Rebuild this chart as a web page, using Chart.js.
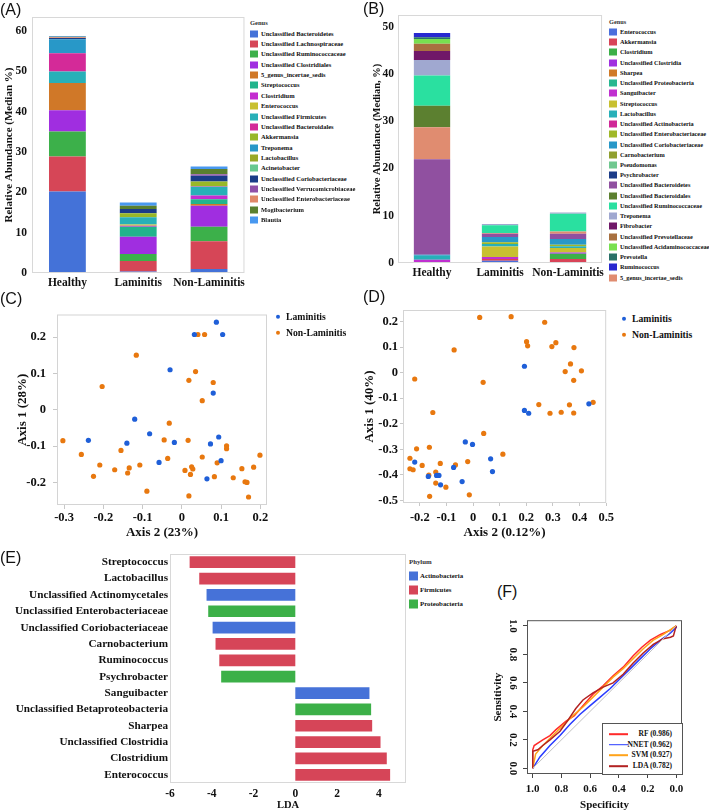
<!DOCTYPE html>
<html>
<head>
<meta charset="utf-8">
<script src="https://cdn.jsdelivr.net/npm/chart.js@4.4.1/dist/chart.umd.min.js"></script>
<style>
  body { margin: 0; background: #fff; }
  #page { position: relative; width: 709px; height: 812px; overflow: hidden;
          font-family: "Liberation Serif", "Times New Roman", serif; font-weight: bold; color: #111; }
  canvas { position: absolute; }
  .t { position: absolute; white-space: nowrap; line-height: 1; transform: translateY(-50%); }
  .sq { position: absolute; transform: translateY(-50%); }
  .panel { font-family: "Liberation Sans", Arial, sans-serif; font-weight: normal; }
</style>
</head>
<body>
<div id="page">
  <canvas id="cA" width="248" height="292" style="left:0;top:0"></canvas>
  <canvas id="cB" width="252" height="282" style="left:355px;top:0"></canvas>
  <canvas id="cC" width="271" height="240" style="left:0;top:300px"></canvas>
  <canvas id="cD" width="263" height="240" style="left:355px;top:300px"></canvas>
  <canvas id="cE" width="407" height="267" style="left:0;top:545px"></canvas>
  <canvas id="cF" width="205" height="202" style="left:485px;top:610px"></canvas>
</div>
<script>
const groups = ['Healthy', 'Laminitis', 'Non-Laminitis'];

// (A) median relative abundance per genus: [Healthy, Laminitis, Non-Laminitis]
const genusA = ['Unclassified Bacteroidetes', 'Unclassified Lachnospiraceae', 'Unclassified Ruminococcaceae',
  'Unclassified Clostridiales', '5_genus_incertae_sedis', 'Streptococcus', 'Clostridium', 'Enterococcus',
  'Unclassified Firmicutes', 'Unclassified Bacteroidales', 'Akkermansia', 'Treponema', 'Lactobacillus',
  'Acinetobacter', 'Unclassified Coriobacteriaceae', 'Unclassified Verrucomicrobiaceae',
  'Unclassified Enterobacteriaceae', 'Mogibacterium', 'Blautia'];
const colorA = ['#4472d8', '#d64657', '#3cb04a', '#a02ee0', '#d07828', '#22b48c', '#c42cd0', '#c8c030',
  '#28b0b8', '#d42a98', '#98b828', '#2898c8', '#98a828', '#68c890', '#1a3c88', '#9050a8',
  '#e08868', '#5a8030', '#4898f0'];
const medianA = [
  [20.2, 0.4, 1.0], [8.7, 2.6, 6.9], [6.2, 1.7, 3.6], [5.3, 4.3, 5.2], [6.7, 0, 0.4],
  [0, 2.5, 1.2], [0, 0.25, 0.9], [0, 0.3, 0], [2.9, 1.75, 2.2], [4.5, 0, 0.1],
  [0, 1.0, 1.2], [3.5, 0, 0], [0, 0, 0], [0, 0, 0], [0.3, 1.1, 1.4],
  [0, 0, 0.4], [0.2, 0, 0], [0.1, 0.8, 1.3], [0.2, 0.8, 0.6]];

// (B) same, legend order
const genusB = ['Enterococcus', 'Akkermansia', 'Clostridium', 'Unclassified Clostridia', 'Sharpea',
  'Unclassified Proteobacteria', 'Sanguibacter', 'Streptococcus', 'Lactobacillus',
  'Unclassified Actinobacteria', 'Unclassified Enterobacteriaceae', 'Unclassified Coriobacteriaceae',
  'Carnobacterium', 'Pseudomonas', 'Psychrobacter', 'Unclassified Bacteroidetes',
  'Unclassified Bacteroidales', 'Unclassified Ruminococcaceae', 'Treponema', 'Fibrobacter',
  'Unclassified Prevotellaceae', 'Unclassified Acidaminococcaceae', 'Prevotella', 'Ruminococcus',
  '5_genus_incertae_sedis'];
const colorB = ['#4a6fdc', '#d84458', '#3cb048', '#a030e0', '#d07a28', '#28b890', '#c030d0', '#c8c030',
  '#28b0b8', '#d02898', '#a0b828', '#2898c8', '#90a030', '#70c890', '#1c3c88', '#9050a0',
  '#5c8030', '#2ae0a0', '#a0a8d0', '#701868', '#a87040', '#78e050', '#2a7068', '#2828d0', '#e08c70'];
const medianB = [
  [0, 0.5, 0], [0, 0.35, 0.85], [0, 0, 1.12], [0, 0, 0.27], [0, 0, 0],
  [0, 0, 0], [0.7, 0.43, 0], [0, 2.23, 0.93], [0.85, 0.5, 0.4],
  [0, 0, 0], [0, 0.36, 0.3], [0.2, 1.14, 1.2],
  [0, 0, 0], [0, 0, 0], [0, 0, 0], [20.2, 0.7, 1.13],
  [4.55, 0, 0], [6.4, 1.62, 3.74], [3.3, 0.29, 0.28], [1.9, 0, 0],
  [1.5, 0, 0], [1.0, 0, 0], [0.4, 0, 0], [0.9, 0, 0],
  [6.8, 0.14, 0.48]];
// stacking order in (B), bottom to top
const stackB = ['Enterococcus', 'Akkermansia', 'Clostridium', 'Unclassified Clostridia', 'Sharpea',
  'Unclassified Proteobacteria', 'Sanguibacter', 'Streptococcus', 'Lactobacillus',
  'Unclassified Actinobacteria', 'Unclassified Enterobacteriaceae', 'Unclassified Coriobacteriaceae',
  'Carnobacterium', 'Pseudomonas', 'Psychrobacter', 'Unclassified Bacteroidetes', '5_genus_incertae_sedis',
  'Unclassified Bacteroidales', 'Unclassified Ruminococcaceae', 'Treponema', 'Fibrobacter',
  'Unclassified Prevotellaceae', 'Unclassified Acidaminococcaceae', 'Prevotella', 'Ruminococcus'];

// (C) PCoA, [Axis 2, Axis 1]
const lamC = [[0.088,0.241],[0.032,0.207],[0.104,0.207],[-0.030,0.110],[0.080,0.046],[-0.120,-0.026],
  [-0.082,-0.066],[-0.238,-0.084],[-0.140,-0.092],[-0.019,-0.090],[0.094,-0.075],[0.073,-0.094],
  [-0.058,-0.145],[0.100,-0.140],[0.064,-0.190]];
const nonC = [[0.041,0.207],[0.058,0.207],[-0.116,0.150],[-0.203,0.064],[0.035,0.105],[0.018,0.081],
  [0.080,0.075],[0.052,0.025],[-0.032,-0.037],[-0.303,-0.085],[-0.256,-0.123],[-0.209,-0.152],
  [-0.225,-0.183],[-0.155,-0.112],[-0.171,-0.165],[-0.138,-0.174],[-0.134,-0.160],[-0.107,-0.152],
  [-0.045,-0.083],[-0.036,-0.134],[-0.089,-0.224],[0.016,-0.084],[0.008,-0.167],[0.022,-0.178],
  [0.025,-0.157],[0.028,-0.163],[0.018,-0.237],[0.052,-0.130],[0.090,-0.146],[0.083,-0.184],
  [0.114,-0.099],[0.114,-0.107],[0.131,-0.187],[0.153,-0.162],[0.161,-0.198],[0.166,-0.200],
  [0.183,-0.158],[0.199,-0.125],[0.170,-0.240]];

// (D)
const lamD = [[0.193,0.025],[0.193,-0.148],[0.209,-0.159],[0.435,-0.122],[-0.219,-0.350],[-0.029,-0.271],
  [-0.002,-0.281],[-0.073,-0.371],[0.066,-0.337],[0.073,-0.387],[-0.168,-0.406],[-0.137,-0.402],
  [-0.128,-0.402],[-0.122,-0.439],[-0.041,-0.426]];
const nonD = [[0.025,0.216],[0.143,0.219],[0.269,0.197],[0.201,0.121],[0.205,0.105],[0.311,0.117],
  [0.296,0.102],[0.379,0.098],[-0.071,0.089],[0.366,0.034],[0.346,0.004],[0.407,0.007],[0.378,-0.030],
  [-0.219,-0.025],[0.038,-0.038],[0.247,-0.125],[0.289,-0.159],[0.331,-0.155],[0.362,-0.126],
  [0.378,-0.158],[0.451,-0.116],[-0.151,-0.156],[0.040,-0.238],[-0.212,-0.298],[-0.164,-0.292],
  [-0.237,-0.335],[-0.237,-0.376],[-0.225,-0.380],[-0.191,-0.363],[-0.123,-0.355],[-0.066,-0.361],
  [-0.020,-0.348],[0.112,-0.319],[-0.166,-0.401],[-0.140,-0.389],[-0.140,-0.432],[-0.102,-0.448],
  [-0.163,-0.484],[-0.014,-0.478]];

// (E) LEfSe
const ldaTaxa = ['Streptococcus', 'Lactobacillus', 'Unclassified Actinomycetales',
  'Unclassified Enterobacteriaceae', 'Unclassified Coriobacteriaceae', 'Carnobacterium', 'Ruminococcus',
  'Psychrobacter', 'Sanguibacter', 'Unclassified Betaproteobacteria', 'Sharpea',
  'Unclassified Clostridia', 'Clostridium', 'Enterococcus'];
const ldaScore = [-5.06, -4.60, -4.25, -4.17, -3.96, -3.82, -3.64, -3.55, 3.55, 3.63, 3.68, 4.08, 4.38, 4.54];
const ldaPhylum = ['Firmicutes', 'Firmicutes', 'Actinobacteria', 'Proteobacteria', 'Actinobacteria',
  'Firmicutes', 'Firmicutes', 'Proteobacteria', 'Actinobacteria', 'Proteobacteria', 'Firmicutes',
  'Firmicutes', 'Firmicutes', 'Firmicutes'];
const phyla = ['Actinobacteria', 'Firmicutes', 'Proteobacteria'];
const phylumColor = ['#4672d8', '#d64558', '#3cb048'];

// (F) ROC, [specificity, sensitivity]
const rocNames = ['RF (0.986)', 'NNET (0.962)', 'SVM (0.927)', 'LDA (0.782)'];
const rocColors = ['#ff2a2a', '#2a3cff', '#ffa31a', '#b22222'];
const rocRF = [[1,0],[1,0.13],[0.99,0.16],[0.93,0.20],[0.88,0.23],[0.84,0.27],[0.77,0.33],[0.71,0.37],
  [0.65,0.44],[0.58,0.52],[0.51,0.58],[0.44,0.65],[0.37,0.71],[0.30,0.79],[0.24,0.85],[0.18,0.90],
  [0.11,0.94],[0.04,0.97],[0,1]];
const rocNNET = [[1,0],[0.95,0.08],[0.88,0.16],[0.81,0.23],[0.74,0.31],[0.67,0.38],[0.60,0.44],[0.53,0.50],
  [0.46,0.56],[0.39,0.63],[0.32,0.70],[0.25,0.77],[0.18,0.84],[0.11,0.90],[0.04,0.95],[0,0.99],[0,1]];
const rocSVM = [[1,0],[0.98,0.10],[0.93,0.16],[0.86,0.23],[0.79,0.30],[0.72,0.37],[0.65,0.43],[0.58,0.50],
  [0.51,0.57],[0.44,0.64],[0.37,0.70],[0.30,0.77],[0.23,0.84],[0.16,0.90],[0.09,0.94],[0.03,0.98],[0,1]];
const rocLDA = [[1,0],[1,0.12],[0.965,0.13],[0.93,0.16],[0.88,0.20],[0.81,0.26],[0.76,0.33],[0.70,0.42],
  [0.65,0.48],[0.58,0.53],[0.51,0.57],[0.44,0.60],[0.37,0.66],[0.30,0.74],[0.23,0.81],[0.16,0.87],
  [0.09,0.91],[0.04,0.92],[0.02,0.93],[0.01,0.965],[0,1]];
const chance = [[1,0],[0,1]];

const LAM = '#1f5fd8', NON = '#e8780f';

Chart.defaults.font.family = '"Liberation Serif", "Times New Roman", serif';
Chart.defaults.font.weight = 'bold';
Chart.defaults.color = '#111';
Chart.defaults.animation = false;
Chart.defaults.responsive = false;
Chart.defaults.plugins.legend.display = false;
Chart.defaults.plugins.tooltip.enabled = false;

// box round the plot area
Chart.register({
  id: 'frame',
  afterDatasetsDraw(chart, args, opts) {
    const a = chart.chartArea, ctx = chart.ctx;
    ctx.save();
    ctx.strokeStyle = opts.color || '#d6d6d6';
    ctx.lineWidth = opts.width || 1;
    ctx.strokeRect(a.left + 0.5, a.top + 0.5, a.right - a.left - 1, a.bottom - a.top - 1);
    ctx.restore();
  }
});

const fixW = w => s => { s.width = w; };
const fixH = h => s => { s.height = h; };
const noGrid = { display: false, drawTicks: false };
const page = document.getElementById('page');

function text(str, x, y, size, cls, extra) {
  const d = document.createElement('div');
  d.className = 't' + (cls ? ' ' + cls : '');
  d.textContent = str;
  d.style.left = x + 'px';
  d.style.top = y + 'px';
  d.style.fontSize = size + 'px';
  if (extra) Object.assign(d.style, extra);
  page.appendChild(d);
  return d;
}
function swatch(x, y, w, h, color, radius) {
  const d = document.createElement('div');
  d.className = 'sq';
  Object.assign(d.style, { left: x + 'px', top: y + 'px', width: w + 'px', height: h + 'px',
    background: color, borderRadius: radius ? '50%' : '0' });
  page.appendChild(d);
}
function genusLegend(title, names, colors, x, y0, step, size) {
  text(title, x, y0 - step, size, '', { color: '#333' });
  names.forEach((n, i) => {
    swatch(x, y0 + i * step, 8, 7, colors[i]);
    text(n, x + 11, y0 + i * step, size);
  });
}

function stackedBars(id, names, colors, values, yMax, yTitle, yTitlePad, yWidth, tickPad, barPct) {
  return new Chart(document.getElementById(id), {
    type: 'bar',
    data: {
      labels: groups,
      datasets: names.map((g, i) => ({ label: g, data: values[i], backgroundColor: colors[i],
        borderWidth: 0, barPercentage: barPct, categoryPercentage: 1 }))
    },
    options: {
      layout: { padding: { top: id === 'cA' ? 17 : 15, right: 1 } },
      scales: {
        x: { stacked: true, grid: noGrid, border: { display: false },
          ticks: { font: { size: 11.5 }, padding: 3, maxRotation: 0, autoSkip: false }, afterFit: fixH(19) },
        y: { stacked: true, min: 0, max: yMax, grid: noGrid, border: { display: false },
          ticks: { stepSize: 10, includeBounds: false, font: { size: 11.5 }, padding: tickPad },
          title: { display: true, text: yTitle, font: { size: id === 'cA' ? 11 : 10.5 },
            padding: { top: yTitlePad, bottom: 0 } },
          afterFit: fixW(yWidth) }
      },
      plugins: { frame: { color: '#d8d8d8' } }
    }
  });
}

// (A)
stackedBars('cA', genusA, colorA, medianA, 63.5, 'Relative Abundance (Median %)', 3, 32, 5, 0.52);
genusLegend('Genus', genusA, colorA, 250, 33.7, 10.35, 6.5);

// (B)
const orderB = stackB.map(n => genusB.indexOf(n));
stackedBars('cB', orderB.map(i => genusB[i]), orderB.map(i => colorB[i]), orderB.map(i => medianB[i]),
  52.5, 'Relative Abundance (Median, %)', 15.7, 43, 4, 0.534);
genusLegend('Genus', genusB, colorB, 609, 32, 10.23, 6.3);

// (C) and (D)
function pcoa(id, lam, non, xr, yr, xTitle, yTitle, yw, xh, padTop, titlePad, tl, yPad, xPad) {
  return new Chart(document.getElementById(id), {
    type: 'scatter',
    data: {
      datasets: [
        { label: 'Laminitis', data: lam, backgroundColor: LAM, pointRadius: 2.6, borderWidth: 0 },
        { label: 'Non-Laminitis', data: non, backgroundColor: NON, pointRadius: 2.6, borderWidth: 0 }
      ]
    },
    options: {
      layout: { padding: { top: padTop, right: 1 } },
      scales: {
        x: { min: xr[0], max: xr[1], border: { display: false },
          grid: { drawOnChartArea: false, tickLength: tl, color: '#c8c8c8' },
          ticks: { stepSize: 0.1, includeBounds: false, font: { size: 12.5 }, padding: xPad, maxRotation: 0 },
          title: { display: true, text: xTitle, font: { size: 13 }, padding: { top: 0, bottom: 0 } },
          afterFit: fixH(xh) },
        y: { min: yr[0], max: yr[1], border: { display: false },
          grid: { drawOnChartArea: false, tickLength: tl, color: '#c8c8c8' },
          ticks: { stepSize: 0.1, includeBounds: false, font: { size: 12.5 }, padding: yPad },
          title: { display: true, text: yTitle, font: { size: 13 }, padding: { top: titlePad, bottom: 0 } },
          afterFit: fixW(yw) }
      },
      plugins: { frame: { color: '#d4d4d4' } }
    }
  });
}
pcoa('cC', lamC, nonC, [-0.318, 0.217], [-0.262, 0.262], 'Axis 2 (23%)', 'Axis 1 (28%)', 57, 35, 7, 15, 4, 7, 1);
pcoa('cD', lamD, nonD, [-0.263, 0.5], [-0.51, 0.245], 'Axis 2 (0.12%)', 'Axis 1 (40%)', 48, 37, 10, 7, 3, 2, 4);

function groupLegend(x, y) {
  swatch(x - 2.2, y, 4.4, 4.4, LAM, true);
  text('Laminitis', x + 8, y, 9.7);
  swatch(x - 2.2, y + 16, 4.4, 4.4, NON, true);
  text('Non-Laminitis', x + 8, y + 16, 9.7);
}
groupLegend(278, 317);
groupLegend(624, 319);

// (E)
new Chart(document.getElementById('cE'), {
  type: 'bar',
  data: {
    labels: ldaTaxa,
    datasets: [{ data: ldaScore, backgroundColor: ldaPhylum.map(p => phylumColor[phyla.indexOf(p)]),
      borderWidth: 0, barPercentage: 0.715, categoryPercentage: 1 }]
  },
  options: {
    indexAxis: 'y',
    layout: { padding: { top: 9, right: 1 } },
    scales: {
      x: { min: -6, max: 5.3, grid: noGrid, border: { display: false },
        ticks: { stepSize: 2, includeBounds: false, font: { size: 11.5 }, padding: 4 },
        title: { display: true, text: 'LDA', font: { size: 10.5 }, padding: { top: 0, bottom: 0 } },
        afterFit: fixH(29) },
      y: { grid: noGrid, border: { display: false },
        ticks: { font: { size: 11.2 }, padding: 2, autoSkip: false }, afterFit: fixW(170) }
    },
    plugins: { frame: { color: '#d8d8d8' } }
  }
});
text('Phylum', 409, 562, 6.8, '', { color: '#333' });
phyla.forEach((p, i) => {
  swatch(409, 576 + i * 14, 9, 9, phylumColor[i]);
  text(p, 420, 576 + i * 14, 6.8);
});

// (F)
new Chart(document.getElementById('cF'), {
  type: 'scatter',
  data: {
    datasets: [
      { data: chance, showLine: true, borderColor: '#c0c0c0', borderWidth: 1, pointRadius: 0 },
      { data: rocLDA, showLine: true, borderColor: rocColors[3], borderWidth: 1.5, pointRadius: 0 },
      { data: rocSVM, showLine: true, borderColor: rocColors[2], borderWidth: 1.5, pointRadius: 0 },
      { data: rocNNET, showLine: true, borderColor: rocColors[1], borderWidth: 1.5, pointRadius: 0 },
      { data: rocRF, showLine: true, borderColor: rocColors[0], borderWidth: 1.5, pointRadius: 0 }
    ]
  },
  options: {
    layout: { padding: { top: 9, right: 8 } },
    scales: {
      x: { min: -0.04, max: 1.04, reverse: true, border: { display: false },
        grid: { drawOnChartArea: false, tickLength: 4, color: '#444' },
        ticks: { stepSize: 0.2, includeBounds: false, font: { size: 11 }, padding: 5, maxRotation: 0,
          callback: v => v.toFixed(1) },
        title: { display: true, text: 'Specificity', font: { size: 11 }, padding: { top: 0, bottom: 0 } },
        afterFit: fixH(38) },
      y: { min: -0.04, max: 1.04, border: { display: false },
        grid: { drawOnChartArea: false, tickLength: 4, color: '#444' },
        ticks: { stepSize: 0.2, includeBounds: false, font: { size: 11 }, padding: 3.6,
          minRotation: -90, maxRotation: -90, crossAlign: 'center', autoSkip: false,
          callback: v => v.toFixed(1) },
        title: { display: true, text: 'Sensitivity', font: { size: 11 }, padding: { top: 6.4, bottom: 0 } },
        afterFit: fixW(42) }
    },
    plugins: { frame: { color: '#555' } }
  }
});
const fLeg = document.createElement('div');
Object.assign(fLeg.style, { position: 'absolute', left: '602px', top: '723px', width: '79px', height: '50px',
  border: '1px solid #555', background: '#fff' });
page.appendChild(fLeg);
rocNames.forEach((n, i) => {
  const y = 734 + i * 10.7;
  swatch(609, y, 19, 1.6, rocColors[i]);
  text(n, 672, y, 7.5, '', { transform: 'translate(-100%, -50%)' });
});

// panel letters
[['(A)', 0, 10], ['(B)', 363, 9], ['(C)', 0, 299], ['(D)', 363, 297], ['(E)', 0, 557.5], ['(F)', 497, 591.5]]
  .forEach(([s, x, y]) => text(s, x, y, 16, 'panel'));
</script>
</body>
</html>
